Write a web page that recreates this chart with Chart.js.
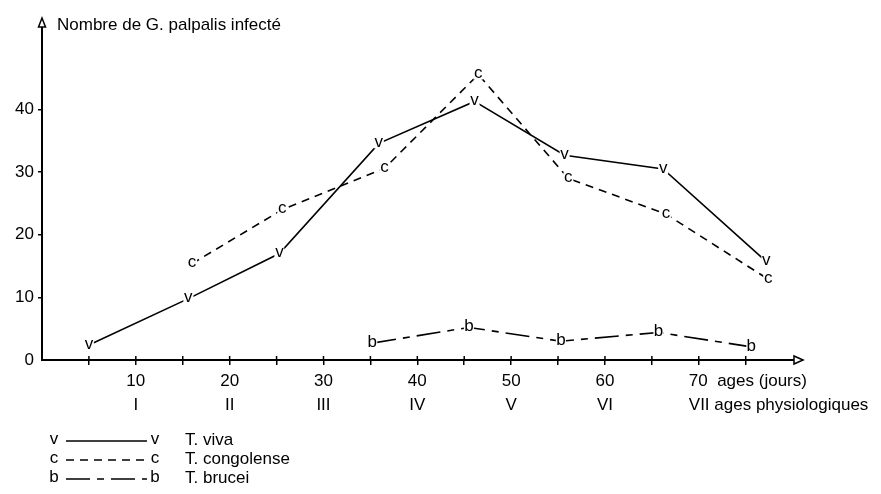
<!DOCTYPE html>
<html>
<head>
<meta charset="utf-8">
<script src="https://cdn.jsdelivr.net/npm/chart.js@4"></script>
<style>
  html, body { margin: 0; padding: 0; background: #fff; }
  #wrap { width: 881px; height: 494px; }
</style>
</head>
<body>
<div id="wrap"><canvas id="myChart" width="881" height="494"></canvas></div>
<script>
// values (age in days, number of infected flies)
const vivaX = [5, 15.6, 25.3, 35.9, 46.1, 55.7, 66.2, 77.2];
const vivaY = [2.4, 9.8, 17.0, 34.6, 41.3, 32.7, 30.5, 15.7];
const congoX = [16.0, 25.6, 36.5, 46.5, 56.1, 66.5, 77.4];
const congoY = [15.4, 24.0, 30.6, 45.6, 29.0, 23.3, 12.9];
const bruceiX = [35.2, 45.5, 55.3, 65.7, 75.6];
const bruceiY = [2.7, 5.2, 3.0, 4.4, 2.1];

const xLabels = [10, 20, 30, 40, 50, 60];
const romans = ['I', 'II', 'III', 'IV', 'V', 'VI'];
const yLabels = [0, 10, 20, 30, 40];

const FONT = '"Liberation Sans", Arial, sans-serif';

function pts(xs, ys) {
  return xs.map((x, i) => ({ x: x, y: ys[i] }));
}

function isMark(v) {
  return v >= 5 && v <= 75 && v % 5 === 0;
}

var ctx = document.getElementById('myChart');

// letters on the points, arrows, title, legend
const drawExtras = {
  id: 'drawExtras',
  afterDatasetsDraw(chart) {
    const c = chart.ctx;
    c.save();
    c.font = '17px ' + FONT;
    c.textAlign = 'center';
    c.textBaseline = 'middle';
    chart.data.datasets.forEach((ds, i) => {
      const meta = chart.getDatasetMeta(i);
      meta.data.forEach(p => {
        c.fillStyle = '#fff';
        c.fillRect(p.x - 5, p.y - 6, 10, 11);
        c.fillStyle = '#000';
        c.fillText(ds.letter, p.x, p.y - 1);
      });
    });
    c.restore();
  },
  afterDraw(chart) {
    const c = chart.ctx;
    const a = chart.chartArea;
    const xs = chart.scales.x;
    c.save();
    c.strokeStyle = '#000';
    c.lineWidth = 1.5;
    // upper half of the x tick marks (they cross the axis)
    xs.ticks.forEach(t => {
      if (!isMark(t.value)) return;
      const px = xs.getPixelForValue(t.value);
      c.beginPath();
      c.moveTo(px, a.bottom);
      c.lineTo(px, a.bottom - 4);
      c.stroke();
    });

    c.fillStyle = '#fff';
    // x arrow
    c.beginPath();
    c.moveTo(a.right + 1, a.bottom);
    c.lineTo(a.right - 8, a.bottom - 4);
    c.lineTo(a.right - 8, a.bottom + 4);
    c.closePath();
    c.fill(); c.stroke();
    // y arrow
    c.beginPath();
    c.moveTo(a.left, a.top - 2);
    c.lineTo(a.left - 3.5, a.top + 7);
    c.lineTo(a.left + 3.5, a.top + 7);
    c.closePath();
    c.fill(); c.stroke();

    c.fillStyle = '#000';
    c.font = '17px ' + FONT;
    c.textBaseline = 'middle';
    c.textAlign = 'left';
    c.fillText('Nombre de G. palpalis infecté', a.left + 15, 25);

    // last tick row labels
    const x70 = xs.getPixelForValue(70);
    c.fillText('70  ages (jours)', x70 - 10, 381);
    c.fillText('VII ages physiologiques', x70 - 10, 405);

    // legend
    const rows = [440, 459, 478];
    chart.data.datasets.forEach((ds, i) => {
      const y = rows[i];
      c.textAlign = 'center';
      c.fillText(ds.letter, 54, y - 1);
      c.fillText(ds.letter, 155, y - 1);
      c.beginPath();
      c.setLineDash(ds.borderDash || []);
      c.lineWidth = ds.borderWidth;
      c.moveTo(66, y + 1);
      c.lineTo(147, y + 1);
      c.stroke();
      c.setLineDash([]);
      c.textAlign = 'left';
      c.fillText(ds.label, 185, y);
    });
    c.restore();
  }
};

var myChart = new Chart(ctx, {
  type: 'line',
  data: {
    datasets: [{
      label: 'T. viva',
      letter: 'v',
      data: pts(vivaX, vivaY),
      borderColor: '#000',
      borderWidth: 1.6,
      pointRadius: 0,
      tension: 0
    }, {
      label: 'T. congolense',
      letter: 'c',
      data: pts(congoX, congoY),
      borderColor: '#000',
      borderWidth: 1.6,
      borderDash: [8, 6],
      pointRadius: 0,
      tension: 0
    }, {
      label: 'T. brucei',
      letter: 'b',
      data: pts(bruceiX, bruceiY),
      borderColor: '#000',
      borderWidth: 1.6,
      borderDash: [24, 7, 7, 7],
      pointRadius: 0,
      tension: 0
    }]
  },
  options: {
    responsive: false,
    animation: false,
    layout: { padding: { top: 20, right: 79, left: 0, bottom: 0 } },
    plugins: { legend: { display: false }, tooltip: { enabled: false } },
    scales: {
      x: {
        type: 'linear',
        min: 0,
        max: 81,
        border: { color: '#000', width: 2 },
        grid: {
          drawOnChartArea: false,
          tickLength: 5,
          color: c => (c.tick && isMark(c.tick.value)) ? '#000' : 'rgba(0,0,0,0)',
          lineWidth: 1.5
        },
        ticks: {
          stepSize: 5,
          autoSkip: false,
          maxRotation: 0,
          color: '#000',
          padding: 4,
          font: { family: FONT, size: 17, lineHeight: 1.42 },
          callback: v => {
            const k = xLabels.indexOf(v);
            return k >= 0 ? [String(v), romans[k]] : '';
          }
        },
        afterFit: s => { s.height = 134; }
      },
      y: {
        min: 0,
        max: 54.3,
        border: { color: '#000', width: 2 },
        grid: {
          drawOnChartArea: false,
          tickLength: 4,
          color: c => (c.tick && c.tick.value >= 10 && c.tick.value <= 40) ? '#000' : 'rgba(0,0,0,0)',
          lineWidth: 1.5
        },
        ticks: {
          stepSize: 10,
          color: '#000',
          padding: 4,
          font: { family: FONT, size: 17 },
          callback: v => yLabels.indexOf(v) >= 0 ? String(v) : ''
        },
        afterFit: s => { s.width = 42; }
      }
    }
  },
  plugins: [drawExtras]
});
</script>
</body>
</html>
